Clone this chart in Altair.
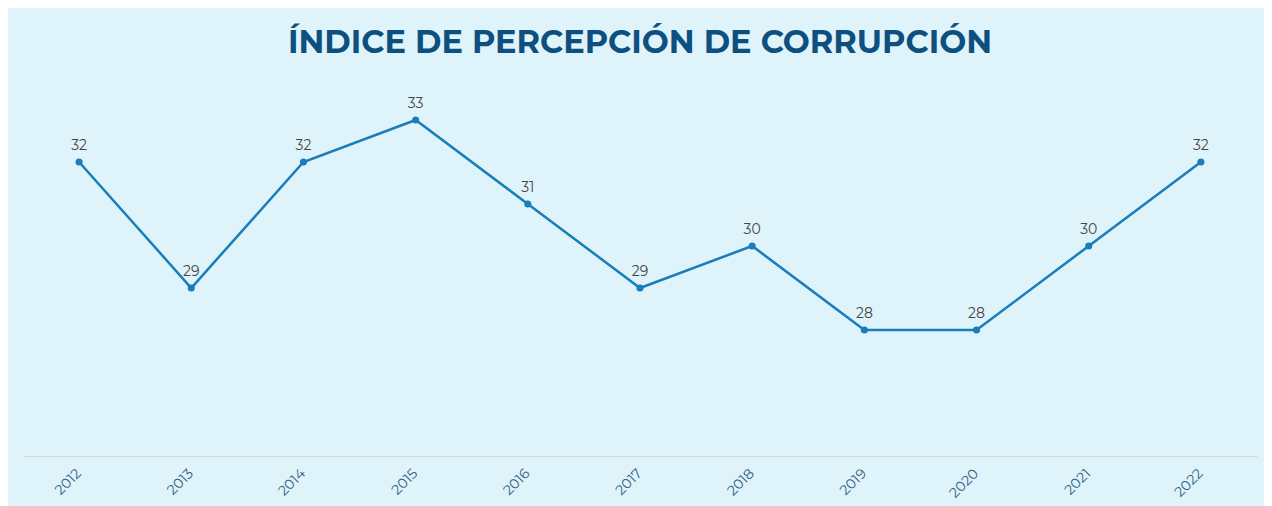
import altair as alt
import pandas as pd

years = ["2012", "2013", "2014", "2015", "2016", "2017", "2018", "2019", "2020", "2021", "2022"]
scores = [32, 29, 32, 33, 31, 29, 30, 28, 28, 30, 32]

df = pd.DataFrame({"year": years, "score": scores})

BG = "#dff3fa"
LINE = "#1a7dbb"

x_enc = alt.X("year:N", sort=years,
              scale=alt.Scale(type="band", paddingInner=0, paddingOuter=0),
              axis=alt.Axis(title=None, labelAngle=-45, labelAlign="right",
                            labelBaseline="middle", labelPadding=15,
                            labelFont="Montserrat, Lato, sans-serif", labelFontSize=14,
                            labelColor="#2f5f82", ticks=False, domainColor="#cfd8dc",
                            domainWidth=1, grid=False, labelOffset=0))
y_enc = alt.Y("score:Q", scale=alt.Scale(domain=[25, 34], nice=False, zero=False),
              axis=None)

base = alt.Chart(df).encode(x=x_enc, y=y_enc)

line = base.mark_line(color=LINE, strokeWidth=2.5)
pts = base.mark_point(filled=True, color=LINE, size=50, opacity=1)
labels = base.mark_text(dy=-16, fontSize=14, color="#444444",
                        font="Montserrat, Lato, sans-serif").encode(text="score:Q")

chart = (line + pts + labels).properties(
    width=1234, height=378,
    background=BG,
    autosize=alt.AutoSizeParams(type="none"),
    padding={"left": 15, "top": 70, "right": 7, "bottom": 50},
    title=alt.TitleParams(
        "ÍNDICE DE PERCEPCIÓN DE CORRUPCIÓN",
        font="Montserrat, Open Sans, sans-serif", fontSize=32, fontWeight="bold",
        color="#0d4f7e", anchor="middle", offset=18,
    ),
).configure_view(strokeWidth=0)

chart.save("out.html", embed_options={"renderer": "svg", "actions": False})
